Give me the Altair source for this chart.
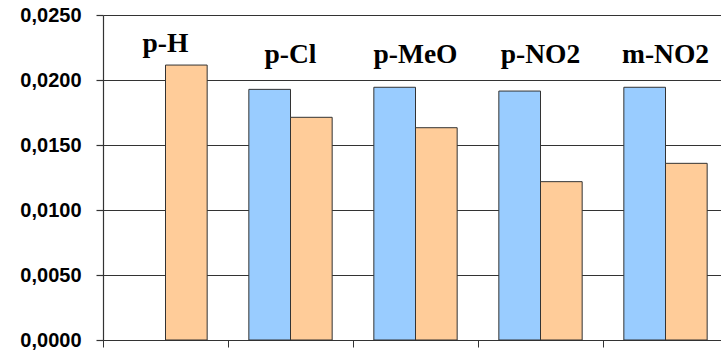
import altair as alt
import pandas as pd

# Substituents and measured values for the two series
groups = ["p-H", "p-Cl", "p-MeO", "p-NO2", "m-NO2"]
series_a = [None, 0.01928, 0.01944, 0.01915, 0.01944]   # blue
series_b = [0.02115, 0.01713, 0.01633, 0.01218, 0.01359]  # orange
# height (in data units) at which each group's name is written
label_level = [0.02215, 0.0213, 0.0213, 0.0213, 0.0213]

rows = []
for g, a, b in zip(groups, series_a, series_b):
    if a is not None:
        rows.append({"group": g, "series": "A", "value": a})
    rows.append({"group": g, "series": "B", "value": b})
bars_df = pd.DataFrame(rows)
labels_df = pd.DataFrame({"group": groups, "level": label_level})

x_scale = alt.Scale(domain=groups, range=[0, 625], paddingInner=0, paddingOuter=0)
y_scale = alt.Scale(domain=[0, 0.025], nice=False)

x_axis = alt.Axis(
    labels=False, title=None, grid=False, bandPosition=0,
    ticks=True, tickSize=7, tickColor="#333333", tickWidth=1,
    domainColor="#333333", domainWidth=1.2,
)
y_axis = alt.Axis(
    title=None, values=[0, 0.005, 0.01, 0.015, 0.02, 0.025],
    labelExpr="replace(format(datum.value, '.4f'), '.', ',')",
    labelFont="Liberation Sans", labelFontWeight="bold", labelFontSize=20,
    labelColor="#000000", labelPadding=15,
    grid=True, gridColor="#333333", gridWidth=1.2,
    tickSize=7, tickColor="#333333", tickWidth=1.2,
    domainColor="#333333", domainWidth=1.2,
)

bars = alt.Chart(bars_df).mark_bar(stroke="#333333", strokeWidth=1).encode(
    x=alt.X("group:N", scale=x_scale, axis=x_axis, sort=groups),
    xOffset=alt.XOffset("series:N", scale=alt.Scale(domain=["A", "B"], paddingInner=0, paddingOuter=0.5)),
    y=alt.Y("value:Q", scale=y_scale, axis=y_axis),
    color=alt.Color("series:N", scale=alt.Scale(domain=["A", "B"], range=["#99CCFF", "#FFCC99"]), legend=None),
)

labels = alt.Chart(labels_df).mark_text(
    font="Liberation Serif", fontWeight="bold", fontSize=27.5,
    baseline="alphabetic", align="center", color="#000000",
).encode(
    x=alt.X("group:N", scale=x_scale, sort=groups),
    y=alt.Y("level:Q", scale=y_scale),
    text="group:N",
)

chart = alt.layer(bars, labels).properties(
    width=618, height=325,
    autosize=alt.AutoSizeParams(type="none"),
    padding={"left": 103, "top": 15, "right": 0, "bottom": 17},
    background="#ffffff",
).configure_view(stroke=None)

chart.save("out.html", embed_options={"renderer": "svg", "actions": False})
